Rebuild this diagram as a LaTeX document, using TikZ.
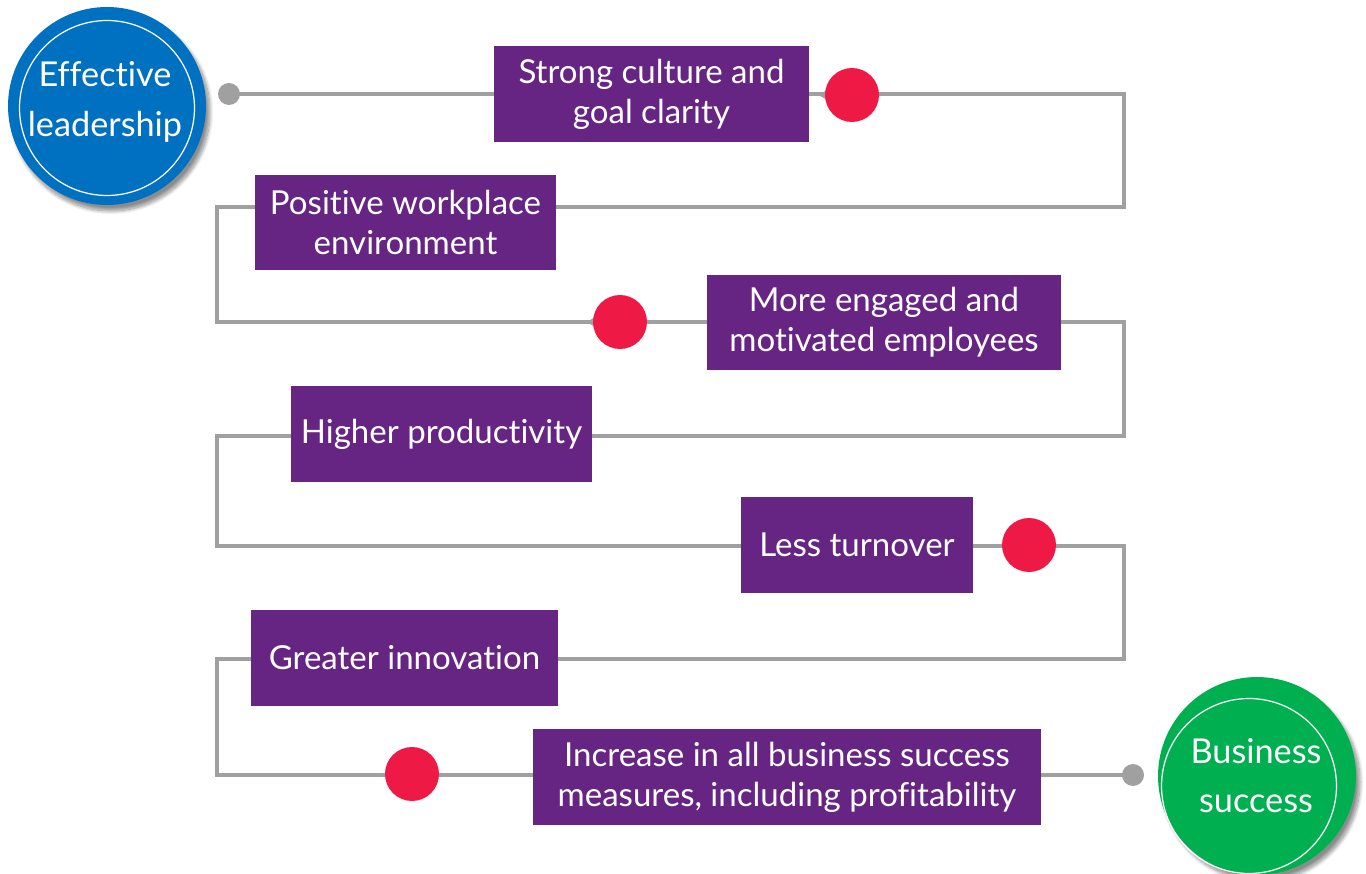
\documentclass[tikz,border=0pt]{standalone}
\usepackage{fontspec}
\setmainfont{Lato}[Ligatures=NoCommon]
\usepackage{xcolor}
\usepackage{tikz}
\usetikzlibrary{arrows.meta,positioning,calc,backgrounds,shadows.blur}
\definecolor{leadB}{HTML}{0070C0}
\definecolor{stepP}{HTML}{662483}
\definecolor{dotR}{HTML}{EE1A45}
\definecolor{wire}{HTML}{A0A0A0}
\definecolor{winG}{HTML}{00B050}

\begin{document}
\begin{tikzpicture}[x=0.02cm,y=-0.02cm,
  font=\fontsize{18.8}{22.8}\selectfont,
  every node/.style={align=center},
  stage/.style={fill=stepP,text=white,inner sep=0pt,minimum height=1.92cm},
  goal/.style={circle,minimum size=3.96cm,text=white,inner sep=0pt,
               blur shadow={shadow xshift=0.08cm,shadow yshift=-0.12cm,
                            shadow opacity=45,shadow blur steps=12}},
  ring/.style={circle,draw=white,line width=0.7pt,minimum size=3.5cm},
  goaltext/.style={text=white,font=\fontsize{19.5}{28}\selectfont},
  milestone/.style={circle,fill=dotR,minimum size=1.08cm,inner sep=0pt},
  endpt/.style={circle,fill=wire,minimum size=0.44cm,inner sep=0pt},
  link/.style={wire,line width=0.08cm},
  tip/.style={link,-{Triangle[length=0.3cm,width=0.34cm]}}
]
\useasboundingbox (0,0) rectangle (1366,874);

% start and end
\node[goal,fill=leadB] (lead) at (107,106) {};
\node[ring] at (107,108) {};
\node[goaltext] (leadtxt) at (105,102) {Effective\\leadership};
\node[goal,fill=winG] (win) at (1257,776) {};
\node[ring] at (1249,786) {};
\node[goaltext] (wintxt) at (1256,776) {Business\\success};

% stages
\node[stage,minimum width=6.3cm]  (b1) at (651.5,94)  {Strong culture and\\goal clarity};
\node[stage,minimum width=6.02cm] (b2) at (405.5,222.5) {Positive workplace\\environment};
\node[stage,minimum width=7.08cm] (b3) at (884,322.5) {More engaged and\\motivated employees};
\node[stage,minimum width=6.02cm] (b4) at (441.5,434) {Higher productivity};
\node[stage,minimum width=4.64cm] (b5) at (857,545) {Less turnover};
\node[stage,minimum width=6.14cm] (b6) at (404.5,658) {Greater innovation};
\node[stage,minimum width=10.16cm] (b7) at (787,777) {Increase in all business success\\measures, including profitability};

% dots
\node[endpt] (g1) at (229,94) {};
\node[endpt] (g2) at (1133,775) {};
\node[milestone] (d1) at (852,95) {};
\node[milestone] (d2) at (620,322) {};
\node[milestone] (d3) at (1029,545) {};
\node[milestone] (d4) at (412,774) {};

% the winding line
\coordinate (ra) at (1124,94);  \coordinate (rb) at (1124,207);
\coordinate (lb) at (217,207);  \coordinate (lc) at (217,322);
\coordinate (rc) at (1124,322); \coordinate (rd) at (1124,436);
\coordinate (ld) at (217,436);  \coordinate (le) at (217,546);
\coordinate (re) at (1124,546); \coordinate (rf) at (1124,659);
\coordinate (lf) at (217,659);  \coordinate (lg) at (217,775);
\begin{scope}[on background layer]
\draw[link] (g1.center) -- (ra) -- (rb) -- (lb) -- (lc) -- (rc) -- (rd)
  -- (ld) -- (le) -- (re) -- (rf) -- (lf) -- (lg) -- (g2.center);
\draw[tip] (d1.center) -- ($(d1.west)+(-6,0)$);
\draw[tip] (d2.center) -- ($(d2.west)+(-6,0)$);
\end{scope}
\end{tikzpicture}
\end{document}
